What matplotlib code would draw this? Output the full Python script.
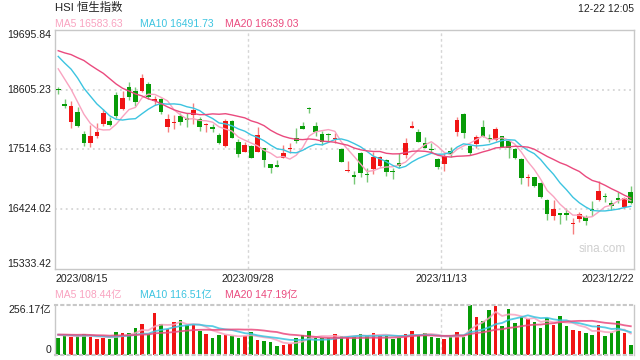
import numpy as np
import matplotlib
matplotlib.use('Agg')
import matplotlib.pyplot as plt
import matplotlib.transforms as mtransforms

plt.rcParams['font.family'] = ['Liberation Sans', 'Noto Sans CJK SC']

title = 'HSI 恒生指数'
stamp = '12-22 12:05'
date_labels = ['2023/08/15', '2023/09/28', '2023/11/13', '2023/12/22']
price_ticks = [15333.42, 16424.02, 17514.63, 18605.23, 19695.84]
vol_top = 256.17
vol_tick_labels = ['256.17亿', '0']

ma_names = ['MA5', 'MA10', 'MA20']
ma_days = [5, 10, 20]
ma_colors = ['#f9a3c0', '#3cc4e0', '#ea4a7e']
price_ma_text = ['16583.63', '16491.73', '16639.03']
vol_ma_text = ['108.44亿', '116.51亿', '147.19亿']

# closes / volumes before the first visible day (only feed the moving averages)
pre_closes = [19105, 18928, 19075, 18668, 19435, 19365, 19639, 19917, 20079, 20011,
              19517, 19421, 19539, 19537, 19184, 19246, 19248, 19075, 18773]
pre_volumes = [98, 112, 105, 94, 120, 108, 101, 115, 96, 104,
               110, 99, 118, 107, 93, 112, 103, 109, 100]

opens = [18610, 18340, 18022, 18199, 17798, 17639, 17767, 17980, 18035, 18510,
         18254, 18650, 18583, 18588, 18710, 18400, 18436, 17931, 17995, 18132,
         18095, 18144, 18065, 17965, 17931, 17779, 17579, 18035, 17657, 17475,
         17584, 17475, 17537, 17250, 17232, 17365, 17530, 17730, 17944, 18260,
         17944, 17791, 17798, 17712, 17524, 17125, 17050, 17457, 17068, 17159,
         17214, 17323, 17123, 17275, 17414, 17913, 17829, 17628, 17530, 17336,
         17250, 17488, 17840, 18163, 17579, 17615, 17920, 17730, 17688, 17761,
         17676, 17519, 17341, 16989, 17008, 16909, 16593, 16301, 16350, 16350,
         16150, 16241, 16289, 16429, 16593, 16666, 16533, 16624, 16460, 16745]
highs = [18661, 18437, 18400, 18296, 17858, 17962, 17993, 18249, 18113, 18559,
         18583, 18741, 18661, 18898, 18741, 18490, 18460, 18157, 18145, 18187,
         18187, 18370, 18113, 17993, 17975, 17810, 18071, 18053, 17706, 17646,
         17597, 17931, 17548, 17250, 17323, 17597, 17627, 17913, 18011, 18291,
         18011, 17852, 17810, 17822, 17537, 17305, 17123, 17475, 17172, 17475,
         17396, 17336, 17172, 17457, 17719, 18035, 17889, 17737, 17628, 17354,
         17446, 17555, 18102, 18175, 17597, 17779, 18053, 17792, 17931, 17761,
         17688, 17537, 17354, 17068, 17018, 16927, 16606, 16593, 16362, 16442,
         16259, 16380, 16320, 16575, 16940, 16716, 16593, 16746, 16642, 16849]
lows = [18522, 18267, 17902, 17926, 17584, 17566, 17730, 17944, 17944, 18095,
        18236, 18418, 18314, 18570, 18436, 18327, 18163, 17840, 17889, 17962,
        17931, 17980, 17858, 17839, 17839, 17609, 17566, 17719, 17372, 17463,
        17354, 17463, 17201, 17092, 17190, 17354, 17446, 17627, 17883, 18175,
        17767, 17597, 17675, 17627, 17292, 17110, 16880, 17008, 16916, 17068,
        17201, 17037, 16971, 17172, 17354, 17902, 17646, 17537, 17446, 17159,
        17123, 17372, 17767, 17719, 17414, 17536, 17737, 17657, 17676, 17554,
        17354, 17336, 16885, 16854, 16836, 16624, 16228, 16228, 16155, 16228,
        15973, 16197, 16137, 16301, 16581, 16562, 16411, 16533, 16441, 16520]
closes = [18595, 18309, 18309, 17944, 17628, 17761, 17834, 18187, 17962, 18132,
          18455, 18479, 18387, 18825, 18473, 18436, 18205, 18071, 18010, 18011,
          18053, 18236, 17919, 17975, 17884, 17627, 18035, 17731, 17433, 17597,
          17365, 17779, 17323, 17183, 17201, 17446, 17545, 17675, 17883, 18250,
          17828, 17657, 17773, 17725, 17292, 17140, 17008, 17081, 17044, 17372,
          17372, 17110, 17099, 17219, 17628, 17944, 17657, 17548, 17506, 17201,
          17396, 17427, 18053, 17821, 17446, 17737, 17749, 17706, 17884, 17566,
          17536, 17354, 16989, 17018, 16849, 16642, 16338, 16429, 16325, 16325,
          16168, 16338, 16216, 16393, 16758, 16642, 16490, 16600, 16624, 16544]
volumes = [89, 99, 92, 99, 109, 92, 82, 87, 82, 118,
           113, 113, 138, 159, 108, 215, 157, 131, 169, 179,
           154, 155, 123, 109, 87, 102, 104, 99, 87, 99,
           118, 77, 72, 67, 48, 51, 58, 87, 102, 123,
           89, 85, 85, 109, 97, 92, 94, 109, 99, 114,
           99, 99, 82, 89, 109, 125, 99, 113, 94, 87,
           82, 92, 118, 94, 256, 195, 174, 231, 251, 149,
           236, 164, 193, 184, 169, 138, 191, 154, 200, 149,
           128, 123, 113, 102, 154, 97, 113, 174, 113, 51]

RED = '#f01414'
GREEN = '#079b07'
GRID = '#d6d6d6'
EDGE = '#c8c8c8'
TXT = '#222222'


def moving_avg(pre, vals, k):
    full = np.array(pre + vals, dtype=float)
    out = np.convolve(full, np.ones(k) / k, mode='valid')
    return out[-len(vals):]


n = len(closes)
idx = np.arange(n)
o = np.array(opens, dtype=float)
c = np.array(closes, dtype=float)
h = np.array(highs, dtype=float)
l = np.array(lows, dtype=float)
cols = np.where(c >= o, RED, GREEN)

fig = plt.figure(figsize=(6.4, 3.6), dpi=100)
ax = fig.add_axes([55 / 640, 91 / 360, 579 / 640, 239 / 360])
axv = fig.add_axes([55 / 640, 5 / 360, 579 / 640, 50 / 360])

# ---- price panel
for y in price_ticks[1:4]:
    ax.axhline(y, color=GRID, lw=1.3, ls=(0, (1, 2)), zorder=0)
for frac in (1 / 3, 2 / 3):
    xv = -0.5 + n * frac
    ax.axvline(xv, color=GRID, lw=1, ls=(0, (2, 2)), zorder=0)
    axv.axvline(xv, color=GRID, lw=1, ls=(0, (2, 2)), zorder=0)

ax.vlines(idx, l, h, colors=cols, lw=1, alpha=0.55, zorder=2)
body_lo = np.minimum(o, c)
body_h = np.maximum(np.abs(c - o), 16)
ax.bar(idx, body_h, bottom=body_lo, width=0.72, color=cols, zorder=3)

for k, col in zip(ma_days, ma_colors):
    ax.plot(idx, moving_avg(pre_closes, closes, k), color=col, lw=1, zorder=4)

ax.set_xlim(-0.5, n - 0.5)
ax.set_ylim(price_ticks[0], price_ticks[-1])
ax.set_xticks([])
ax.set_yticks([])
for s in ax.spines.values():
    s.set_color(EDGE)
    s.set_linewidth(1)

tr = mtransforms.blended_transform_factory(ax.transAxes, ax.transData)
for j, y in enumerate(price_ticks):
    va = 'bottom' if j == 0 else ('top' if j == len(price_ticks) - 1 else 'center')
    ax.text(-0.006, y, f'{y:.2f}', transform=tr, ha='right', va=va,
            fontsize=7.6, color=TXT)

date_pos = [0, 1 / 3, 2 / 3, 1]
date_ha = ['left', 'center', 'center', 'right']
for lab, xp, ha in zip(date_labels, date_pos, date_ha):
    ax.text(xp, -0.02, lab, transform=ax.transAxes, ha=ha, va='top',
            fontsize=7.6, color=TXT)

ax.text(0.945, 0.084, 'sina.com', transform=ax.transAxes, ha='center',
        va='center', fontsize=8.5, color='#cfcfcf')

# ---- volume panel
axv.bar(idx, volumes, width=0.55, color=cols, zorder=2)
for k, col in zip(ma_days, ma_colors):
    axv.plot(idx, moving_avg(pre_volumes, volumes, k), color=col, lw=1.3,
             alpha=0.85, zorder=3)
axv.set_xlim(-0.5, n - 0.5)
axv.set_ylim(0, vol_top)
axv.set_xticks([])
axv.set_yticks([])
for side, s in axv.spines.items():
    s.set_color(EDGE)
    s.set_linewidth(1)
    if side in ('top', 'bottom'):
        s.set_linestyle((0, (1, 2)))
        s.set_linewidth(1.5)

axv.text(-0.006, 1.0, vol_tick_labels[0], transform=axv.transAxes, ha='right',
         va='top', fontsize=7.6, color=TXT)
axv.text(-0.006, 0.0, vol_tick_labels[1], transform=axv.transAxes, ha='right',
         va='bottom', fontsize=7.6, color=TXT)

# ---- header texts
fig.text(55 / 640, 1 - 7 / 360, title, ha='left', va='center', fontsize=8.2,
         color=TXT)
fig.text(634 / 640, 1 - 9 / 360, stamp, ha='right', va='center', fontsize=7.5,
         color=TXT)
legend_x = [55, 140, 225]
for name, val, col, xp in zip(ma_names, price_ma_text, ma_colors, legend_x):
    fig.text(xp / 640, 1 - 24 / 360, f'{name} {val}', ha='left', va='center',
             fontsize=7.5, color=col)
for name, val, col, xp in zip(ma_names, vol_ma_text, ma_colors, legend_x):
    fig.text(xp / 640, 1 - 295 / 360, f'{name} {val}', ha='left', va='center',
             fontsize=7.5, color=col)

fig.savefig('out.png', dpi=100)
